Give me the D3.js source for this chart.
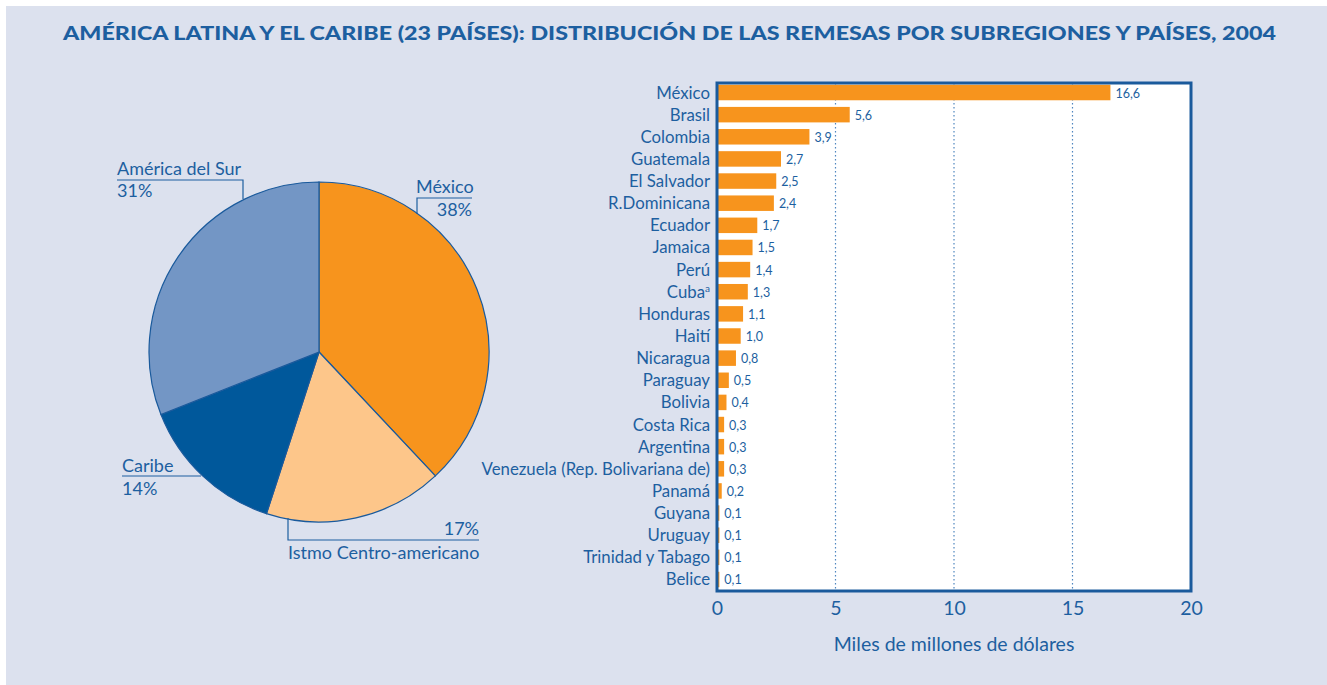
<!DOCTYPE html>
<html>
<head>
<meta charset="UTF-8">
<script src="https://d3js.org/d3.v7.min.js"></script>
<style>
  body { margin: 0; background: #fff; font-family: Lato, "Open Sans", sans-serif; }
  text { fill: #1d5fa0; }
</style>
</head>
<body>
<svg id="main" width="1327" height="685"></svg>
<script>
// pie: subregions
var regions = ["México", "Istmo Centro-americano", "Caribe", "América del Sur"];
var regionShares = [38, 17, 14, 31];
var regionColors = ["#f7941d", "#fdc68a", "#00589b", "#7396c5"];

// bars: countries, thousand millions of dollars
var countries = ["México", "Brasil", "Colombia", "Guatemala", "El Salvador", "R.Dominicana",
  "Ecuador", "Jamaica", "Perú", "Cuba", "Honduras", "Haití", "Nicaragua", "Paraguay",
  "Bolivia", "Costa Rica", "Argentina", "Venezuela (Rep. Bolivariana de)", "Panamá",
  "Guyana", "Uruguay", "Trinidad y Tabago", "Belice"];
var remesas = [16.6, 5.6, 3.9, 2.7, 2.5, 2.4, 1.7, 1.5, 1.4, 1.3, 1.1, 1.0, 0.8, 0.5,
  0.4, 0.3, 0.3, 0.3, 0.2, 0.1, 0.1, 0.1, 0.1];
var xTicks = [0, 5, 10, 15, 20];

var blue = "#1d5fa0";
var svg = d3.select("#main");

svg.append("rect").attr("x", 6).attr("y", 6).attr("width", 1321).attr("height", 679)
  .attr("fill", "#dce1ee");

svg.append("text")
  .attr("x", 63).attr("y", 40)
  .style("font-size", "19px").style("font-weight", "900")
  .attr("textLength", 1213).attr("lengthAdjust", "spacingAndGlyphs")
  .text("AMÉRICA LATINA Y EL CARIBE (23 PAÍSES): DISTRIBUCIÓN DE LAS REMESAS POR SUBREGIONES Y PAÍSES, 2004");

// ---- pie
var cx = 319, cy = 352, r = 170;
var pie = d3.pie().sort(null).value(d => d)(regionShares);
var arc = d3.arc().innerRadius(0).outerRadius(r);
var gp = svg.append("g").attr("transform", "translate(" + cx + "," + cy + ")");
gp.selectAll("path").data(pie).enter().append("path")
  .attr("d", arc)
  .attr("fill", (d, i) => regionColors[i])
  .attr("stroke", "#1a5a9c").attr("stroke-width", 1.2);

var lbl = svg.append("g").style("font-size", "18px");
function line(pts) {
  lbl.append("path").attr("d", d3.line()(pts)).attr("fill", "none")
    .attr("stroke", blue).attr("stroke-width", 1.2);
}
// América del Sur
lbl.append("text").attr("x", 117).attr("y", 175).text(regions[3]);
lbl.append("text").attr("x", 117).attr("y", 197).text(regionShares[3] + "%");
line([[117, 180], [243, 180], [243, 199]]);
// México
lbl.append("text").attr("x", 416).attr("y", 193).text(regions[0]);
lbl.append("text").attr("x", 472).attr("y", 216).attr("text-anchor", "end").text(regionShares[0] + "%");
line([[417, 214], [417, 198], [472, 198]]);
// Caribe
lbl.append("text").attr("x", 122).attr("y", 472).text(regions[2]);
lbl.append("text").attr("x", 122).attr("y", 495).text(regionShares[2] + "%");
line([[122, 476], [201, 476]]);
// Istmo
lbl.append("text").attr("x", 479).attr("y", 535).attr("text-anchor", "end").text(regionShares[1] + "%");
lbl.append("text").attr("x", 288).attr("y", 559).text(regions[1]);
line([[288, 518], [288, 540], [479, 540]]);

// ---- bars
var x0 = 717, x1 = 1191, yTop = 83, yBot = 591;
var x = d3.scaleLinear().domain([0, 20]).range([x0, x1]);
var y = d3.scaleBand().domain(countries).range([yTop, yBot - 2]).paddingInner(0.3).paddingOuter(0.08);

svg.append("rect").attr("x", x0).attr("y", yTop).attr("width", x1 - x0).attr("height", yBot - yTop)
  .attr("fill", "#fff");

svg.append("g").selectAll("line").data(xTicks.slice(1, 4)).enter().append("line")
  .attr("x1", d => x(d)).attr("x2", d => x(d))
  .attr("y1", yTop).attr("y2", yBot)
  .attr("stroke", "#4f86bf").attr("stroke-width", 1.2).attr("stroke-dasharray", "1.5,2.5");

svg.append("g").selectAll("rect").data(remesas).enter().append("rect")
  .attr("x", x(0)).attr("y", (d, i) => y(countries[i]))
  .attr("width", d => x(d) - x(0)).attr("height", y.bandwidth())
  .attr("fill", "#f7941d");

var fmt = d => d.toFixed(1).replace(".", ",");
svg.append("g").selectAll("text").data(remesas).enter().append("text")
  .attr("x", d => x(d) + 5).attr("y", (d, i) => y(countries[i]) + y.bandwidth() / 2 + 5)
  .style("font-size", "12.5px")
  .text(fmt);

var cat = svg.append("g").selectAll("text").data(countries).enter().append("text")
  .attr("x", 710).attr("y", d => y(d) + y.bandwidth() / 2 + 6)
  .attr("text-anchor", "end").style("font-size", "16.8px");
cat.text(d => d);
cat.filter(d => d === "Cuba").append("tspan")
  .attr("dy", -6).style("font-size", "10px").text("a");

svg.append("rect").attr("x", x0).attr("y", yTop).attr("width", x1 - x0).attr("height", yBot - yTop)
  .attr("fill", "none").attr("stroke", "#1a5a9c").attr("stroke-width", 3);

var ax = svg.append("g").attr("transform", "translate(0," + yBot + ")")
  .call(d3.axisBottom(x).tickValues(xTicks).tickSize(0).tickPadding(10).tickFormat(d3.format("d")));
ax.select(".domain").remove();
ax.selectAll("text").style("font-size", "19.5px").style("font-family", "Lato, sans-serif").attr("fill", blue);

svg.append("text").attr("x", 954).attr("y", 651).attr("text-anchor", "middle")
  .style("font-size", "19.5px").text("Miles de millones de dólares");
</script>
</body>
</html>
